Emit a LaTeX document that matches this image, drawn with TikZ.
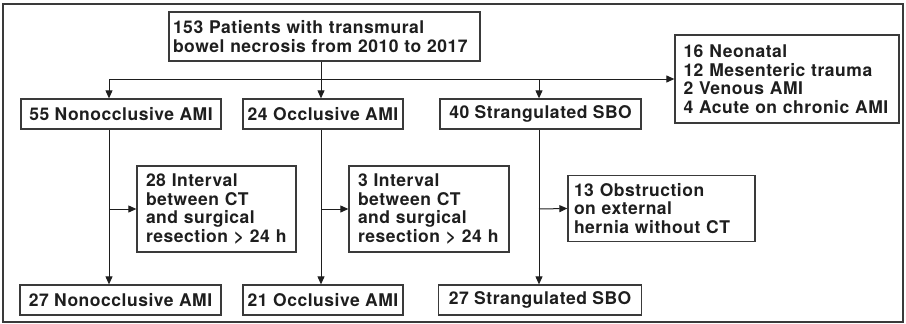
\documentclass[tikz,border=0pt]{standalone}
\usepackage{fontspec}
\newfontfamily\hv[LetterSpace=3]{TeX Gyre Heros}
\usetikzlibrary{arrows.meta}
\definecolor{ink}{HTML}{1E1E1E}
\definecolor{edge}{HTML}{3A3A3A}
\tikzset{
  bx/.style={draw=edge, line width=1.3pt, inner sep=0pt, text=ink,
    font=\hv\bfseries\fontsize{17.5}{18.5}\selectfont},
  sbox/.style={bx, minimum height=30pt},
  mbox/.style={bx, align=left},
  con/.style={draw=ink, line width=1pt},
  arr/.style={con, -{Triangle[length=8pt,width=7pt]}},
}
\begin{document}
\begin{tikzpicture}[x=1pt,y=-1pt]
\useasboundingbox (0,0) rectangle (906,324);
\draw[edge, line width=1.3pt] (3,4) rectangle (903,322);
% nodes
\node[mbox, minimum width=311pt, minimum height=49pt, text width=303pt] (top) at (324.5,36.5)
  {153 Patients with transmural\\bowel necrosis from 2010 to 2017};
\node[mbox, minimum width=224pt, minimum height=88pt, text width=207pt] (neo) at (787,79)
  {16 Neonatal\\12 Mesenteric trauma\\2 Venous AMI\\4 Acute on chronic AMI};
\node[sbox, minimum width=200pt] (n55) at (121,114) {55 Nonocclusive AMI};
\node[sbox, minimum width=160pt] (o24) at (323,114) {24 Occlusive AMI};
\node[sbox, minimum width=201pt] (s40) at (540.5,114) {40 Strangulated SBO};
\node[mbox, minimum width=159pt, minimum height=86pt, text width=141pt] (i28) at (216.5,209)
  {28 Interval\\between CT\\and surgical\\resection > 24 h};
\node[mbox, minimum width=160pt, minimum height=86pt, text width=142pt] (i3) at (429,209)
  {3 Interval\\between CT\\and surgical\\resection > 24 h};
\node[mbox, minimum width=187pt, minimum height=66pt, text width=175pt] (ob13) at (661.5,208.5)
  {13 Obstruction\\on external\\hernia without CT};
\node[sbox, minimum width=201pt] (n27) at (120.5,300) {27 Nonocclusive AMI};
\node[sbox, minimum width=160pt] (o21) at (323,300) {21 Occlusive AMI};
\node[sbox, minimum width=203pt] (s27) at (540,300) {27 Strangulated SBO};
% junction coordinates
\coordinate (jt) at (321,79);
\coordinate (j1) at (109,79);
\coordinate (j3) at (539,79);
\coordinate (m1) at (109,209);
\coordinate (m2) at (321,209);
\coordinate (m3) at (539,209);
% connectors
\draw[con] (jt |- top.south) -- (jt);
\draw[con] (j1) -- (jt);
\draw[arr] (jt) -- (neo.west);
\draw[arr] (j1) -- (j1 |- n55.north);
\draw[arr] (jt) -- (jt |- o24.north);
\draw[arr] (j3) -- (j3 |- s40.north);
\draw[arr] (m1 |- n55.south) -- (m1 |- n27.north);
\draw[arr] (m2 |- o24.south) -- (m2 |- o21.north);
\draw[arr] (m3 |- s40.south) -- (m3 |- s27.north);
\draw[arr] (m1) -- (i28.west);
\draw[arr] (m2) -- (i3.west);
\draw[arr] (m3) -- (ob13.west);
\end{tikzpicture}
\end{document}
